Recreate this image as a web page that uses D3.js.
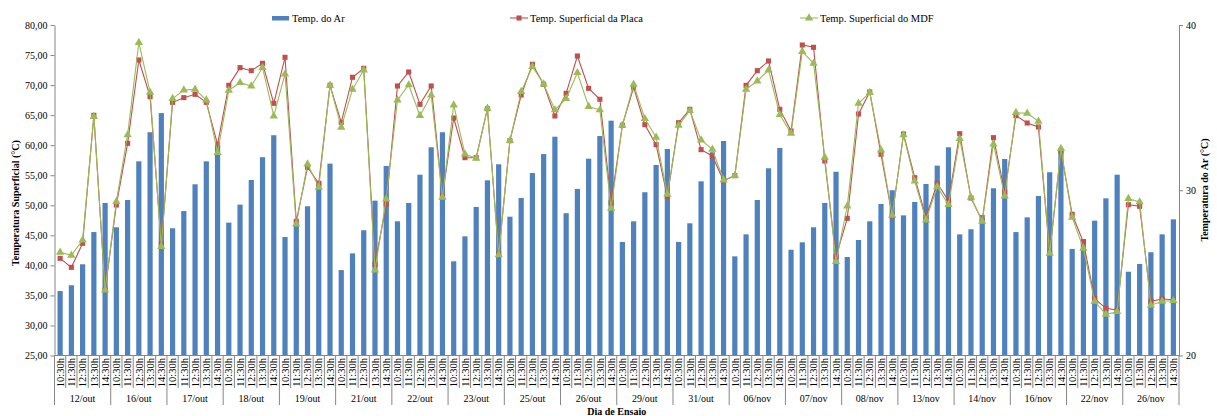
<!DOCTYPE html>
<html>
<head>
<meta charset="utf-8">
<script src="https://cdn.jsdelivr.net/npm/d3@7"></script>
<style>
  body { margin: 0; background: #fff; }
  svg text { font-family: "Liberation Serif", "Times New Roman", serif; fill: #000; }
</style>
</head>
<body>
<svg id="chart" width="1217" height="416"></svg>
<script>
// dias de ensaio e horarios
const days = ["12/out", "16/out", "17/out", "18/out", "19/out", "21/out", "22/out", "23/out", "25/out", "26/out",
  "29/out", "31/out", "06/nov", "07/nov", "08/nov", "13/nov", "14/nov", "16/nov", "22/nov", "26/nov"];
const times = ["10:30h", "11:30h", "12:30h", "13:30h", "14:30h"];

// Temp. do Ar (eixo direito)
const tempAr = [
  23.90, 24.25, 25.52, 27.47, 29.23,
  27.76, 29.41, 31.75, 33.51, 34.67,
  27.70, 28.74, 30.36, 31.75, 32.74,
  28.04, 29.13, 30.62, 32.00, 33.33,
  27.17, 27.86, 29.03, 30.52, 31.61,
  25.17, 26.18, 27.58, 29.37, 31.47,
  28.12, 29.23, 30.94, 32.60, 33.51,
  25.70, 27.21, 28.99, 30.60, 31.57,
  28.40, 29.53, 31.04, 32.19, 33.24,
  28.61, 30.08, 31.91, 33.28, 34.21,
  26.87, 28.12, 29.88, 31.53, 32.50,
  26.87, 28.00, 30.54, 32.30, 32.98,
  26.00, 27.33, 29.41, 31.33, 32.56,
  26.40, 26.85, 27.76, 29.23, 31.12,
  25.96, 26.99, 28.12, 29.17, 30.00,
  28.48, 29.29, 30.38, 31.49, 32.60,
  27.33, 27.64, 28.50, 30.12, 31.89,
  27.47, 28.36, 29.65, 31.09, 32.40,
  26.45, 27.05, 28.16, 29.51, 30.94,
  25.07, 25.54, 26.25, 27.33, 28.24
];

// Temp. Superficial da Placa
const tempPlaca = [
  41.17, 39.67, 43.67, 64.97, 35.90,
  50.05, 60.31, 74.18, 68.07, 43.56,
  67.13, 67.91, 68.46, 67.13, 60.14,
  69.96, 72.90, 72.40, 73.62, 66.97,
  74.62, 47.33, 56.32, 53.66, 69.96,
  63.81, 71.30, 72.79, 40.18, 50.16,
  69.85, 72.18, 66.80, 69.85, 51.54,
  64.52, 57.92, 57.92, 66.07, 41.89,
  60.75, 68.35, 73.46, 70.13, 64.86,
  68.63, 74.84, 69.46, 67.64, 50.43,
  63.31, 69.63, 63.41, 60.08, 51.43,
  63.74, 65.97, 59.25, 58.20, 54.09,
  54.92, 69.96, 72.40, 74.01, 65.97,
  62.36, 76.67, 76.29, 57.37, 41.45,
  47.83, 65.19, 68.85, 58.48, 48.22,
  61.86, 54.59, 48.00, 53.66, 50.76,
  61.91, 51.21, 47.43, 61.25, 52.16,
  64.91, 63.69, 63.03, 42.00, 59.03,
  48.50, 43.84, 34.46, 32.85, 32.57,
  50.10, 49.83, 34.02, 34.40, 34.29
];

// Temp. Superficial do MDF
const tempMdf = [
  42.17, 41.67, 44.22, 64.75, 35.90,
  50.60, 61.70, 77.06, 68.80, 43.11,
  67.74, 69.18, 69.29, 67.52, 58.75,
  69.13, 70.40, 69.85, 72.90, 64.86,
  71.85, 46.88, 56.87, 52.99, 69.96,
  62.98, 69.29, 72.51, 39.23, 51.04,
  67.52, 70.02, 64.91, 68.35, 51.33,
  66.69, 58.53, 57.81, 66.13, 41.73,
  60.75, 68.91, 73.06, 70.18, 65.86,
  67.74, 72.06, 66.41, 65.86, 49.50,
  63.31, 70.13, 64.41, 61.31, 51.83,
  63.31, 65.74, 60.86, 59.31, 54.21,
  54.92, 69.29, 70.68, 72.51, 65.07,
  61.98, 75.56, 73.62, 57.98, 40.61,
  49.88, 66.97, 68.74, 59.20, 48.33,
  61.70, 54.04, 47.55, 53.09, 50.10,
  61.08, 51.33, 47.33, 60.20, 51.54,
  65.41, 65.30, 63.97, 42.00, 59.42,
  48.00, 42.84, 34.02, 31.86, 32.29,
  51.10, 50.55, 33.36, 34.02, 34.12
];

const leftTicks = [25, 30, 35, 40, 45, 50, 55, 60, 65, 70, 75, 80];
const rightTicks = [20, 30, 40];

const svg = d3.select("#chart");
const x0 = 54.5, x1 = 1179, yTop = 25, yBot = 355.5;
const axisColor = "#868686";
const n = days.length * times.length;

const x = d3.scaleBand().domain(d3.range(n)).range([x0, x1]);
const yL = d3.scaleLinear().domain([25, 80]).range([yBot, yTop]);
const yR = d3.scaleLinear().domain([20, 40]).range([yBot, yTop]);
const cx = (i) => x(i) + x.bandwidth() / 2;

// barras - temp do ar
svg.append("g")
  .selectAll("rect")
  .data(tempAr)
  .join("rect")
  .attr("x", (d, i) => cx(i) - 2.6)
  .attr("width", 5.2)
  .attr("y", (d) => yR(d))
  .attr("height", (d) => yBot - yR(d))
  .attr("fill", "#4F81BD");

// eixo esquerdo
const gL = svg.append("g")
  .attr("transform", `translate(${x0},0)`)
  .call(d3.axisLeft(yL).tickValues(leftTicks).tickSize(4).tickSizeOuter(0)
    .tickFormat((d) => d3.format(".2f")(d).replace(".", ",")));
// eixo direito
const gR = svg.append("g")
  .attr("transform", `translate(${x1},0)`)
  .call(d3.axisRight(yR).tickValues(rightTicks).tickSize(4).tickSizeOuter(0));
[gL, gR].forEach((g) => {
  g.selectAll("path, line").attr("stroke", axisColor);
  g.selectAll("text").attr("font-size", 10).attr("fill", "#000")
    .style("font-family", '"Liberation Serif", serif');
});

// eixo x (linha base + separadores)
const xg = svg.append("g");
xg.append("line")
  .attr("x1", x0).attr("x2", x1).attr("y1", yBot).attr("y2", yBot)
  .attr("stroke", axisColor);
xg.selectAll("line.sep")
  .data(d3.range(n + 1))
  .join("line")
  .attr("class", "sep")
  .attr("x1", (i) => x0 + i * x.step())
  .attr("x2", (i) => x0 + i * x.step())
  .attr("y1", yBot)
  .attr("y2", (i) => (i % 5 === 0 ? 405 : 388))
  .attr("stroke", axisColor);

xg.selectAll("text.hr")
  .data(d3.range(n))
  .join("text")
  .attr("class", "hr")
  .attr("transform", (i) => `translate(${cx(i)},358) rotate(-90)`)
  .attr("text-anchor", "end")
  .attr("dy", "0.35em")
  .attr("font-size", 10.5)
  .text((i) => times[i % 5]);

xg.selectAll("text.day")
  .data(days)
  .join("text")
  .attr("class", "day")
  .attr("x", (d, k) => x0 + (k * 5 + 2.5) * x.step())
  .attr("y", 398)
  .attr("dy", "0.35em")
  .attr("text-anchor", "middle")
  .attr("font-size", 10)
  .text((d) => d);

// linhas
const series = [
  { name: "Temp. Superficial da Placa", values: tempPlaca, color: "#C0504D", sym: d3.symbolSquare, size: 26 },
  { name: "Temp. Superficial do MDF", values: tempMdf, color: "#9BBB59", sym: d3.symbolTriangle, size: 30 }
];
const line = d3.line().x((d, i) => cx(i)).y((d) => yL(d));
series.forEach((s) => {
  svg.append("path")
    .attr("d", line(s.values))
    .attr("fill", "none")
    .attr("stroke", s.color)
    .attr("stroke-width", 1.1);
  svg.append("g")
    .selectAll("path")
    .data(s.values)
    .join("path")
    .attr("transform", (d, i) => `translate(${cx(i)},${yL(d)})`)
    .attr("d", d3.symbol(s.sym, s.size))
    .attr("fill", s.color);
});

// titulos
svg.append("text")
  .attr("transform", "translate(15,203) rotate(-90)")
  .attr("text-anchor", "middle").attr("dy", "0.35em")
  .attr("font-size", 10).attr("font-weight", "bold")
  .text("Temperatura Superficial (°C)");
svg.append("text")
  .attr("transform", "translate(1204,190) rotate(-90)")
  .attr("text-anchor", "middle").attr("dy", "0.35em")
  .attr("font-size", 10).attr("font-weight", "bold")
  .text("Temperatura do Ar (°C)");
svg.append("text")
  .attr("x", (x0 + x1) / 2).attr("y", 411)
  .attr("text-anchor", "middle").attr("dy", "0.35em")
  .attr("font-size", 10).attr("font-weight", "bold")
  .text("Dia de Ensaio");

// legenda
const leg = svg.append("g");
leg.append("rect").attr("x", 272).attr("y", 16).attr("width", 17).attr("height", 4.5).attr("fill", "#4F81BD");
leg.append("text").attr("x", 292).attr("y", 18).attr("dy", "0.35em").attr("font-size", 10.5).text("Temp. do Ar");
const legX = [510, 800];
series.forEach((s, k) => {
  const lx = legX[k];
  leg.append("line").attr("x1", lx).attr("x2", lx + 18).attr("y1", 18).attr("y2", 18)
    .attr("stroke", s.color).attr("stroke-width", 1.1);
  leg.append("path").attr("transform", `translate(${lx + 9},18)`)
    .attr("d", d3.symbol(s.sym, s.size)).attr("fill", s.color);
  leg.append("text").attr("x", lx + 20).attr("y", 18).attr("dy", "0.35em")
    .attr("font-size", 10.5).text(s.name);
});
</script>
</body>
</html>
